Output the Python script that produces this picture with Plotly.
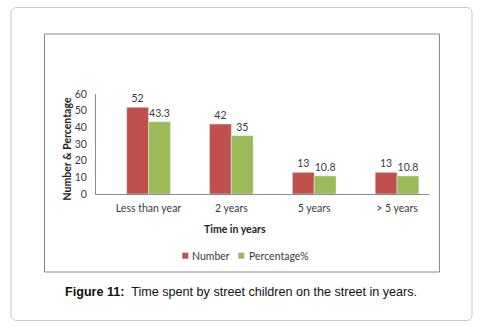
import plotly.graph_objects as go

categories = ["Less than year", "2 years", "5 years", "> 5 years"]
number = [52, 42, 13, 13]
percentage = [43.3, 35, 10.8, 10.8]
number_labels = ["52", "42", "13", "13"]
percentage_labels = ["43.3", "35", "10.8", "10.8"]
series_names = ["Number", "Percentage%"]
series_colors = ["#C0504D", "#9BBB59"]

W, H = 486, 330
L, R, T, B = 96, 429, 94, 194  # plot area pixel bounds

def px(x):
    return (x - L) / (R - L)

def py(y):
    return (B - y) / (B - T)

FONT = "Lato, Liberation Sans, sans-serif"
tick_font = dict(family=FONT, size=10.5, color="#3a3a3a")

fig = go.Figure()
fig.add_trace(go.Bar(name=series_names[0], x=categories, y=number, marker_color=series_colors[0],
                     text=number_labels, textposition="outside", cliponaxis=False,
                     textfont=tick_font, showlegend=False))
fig.add_trace(go.Bar(name=series_names[1], x=categories, y=percentage, marker_color=series_colors[1],
                     text=percentage_labels, textposition="outside", cliponaxis=False,
                     textfont=tick_font, showlegend=False))

def rounded(x0, y0, x1, y1, r):
    X0, X1 = px(x0), px(x1)
    Y0, Y1 = py(y0), py(y1)
    rx = r / (R - L)
    ry = r / (B - T)
    return (f"M {X0+rx},{Y0} L {X1-rx},{Y0} Q {X1},{Y0} {X1},{Y0-ry} "
            f"L {X1},{Y1+ry} Q {X1},{Y1} {X1-rx},{Y1} L {X0+rx},{Y1} "
            f"Q {X0},{Y1} {X0},{Y1+ry} L {X0},{Y0-ry} Q {X0},{Y0} {X0+rx},{Y0} Z")

shapes = [
    dict(type="path", xref="paper", yref="paper", path=rounded(11, 7.5, 472, 320.5, 6),
         line=dict(color="#c8c8c8", width=1), layer="below"),
    dict(type="rect", xref="paper", yref="paper", x0=px(44.5), x1=px(439.5), y0=py(34), y1=py(272),
         line=dict(color="#8a8a8a", width=1), layer="below"),
]

annotations = [
    dict(xref="paper", yref="paper", x=px(241), y=py(291.5), xanchor="center", yanchor="middle",
         showarrow=False,
         text="<b>Figure 11:</b>  Time spent by street children on the street in years.",
         font=dict(family="Liberation Sans, Arial, sans-serif", size=12.6, color="#111111")),
    dict(xref="paper", yref="paper", x=px(234.5), y=py(228.5), xanchor="center", yanchor="middle",
         showarrow=False, text="<b>Time in years</b>",
         font=dict(family=FONT, size=10.5, color="#222222")),
    dict(xref="paper", yref="paper", x=px(66.5), y=py(149), xanchor="center", yanchor="middle",
         showarrow=False, textangle=-90, text="<b>Number & Percentage</b>",
         font=dict(family=FONT, size=10.5, color="#222222")),
]

# legend: small square swatches followed by series names
legend_items = [(182.3, 190, series_names[0], series_colors[0]),
                (238.3, 247, series_names[1], series_colors[1])]
for sx, tx, name, col in legend_items:
    shapes.append(dict(type="rect", xref="paper", yref="paper", x0=px(sx), x1=px(sx + 6),
                       y0=py(252.7), y1=py(258.7), line=dict(width=0), fillcolor=col))
    annotations.append(dict(xref="paper", yref="paper", x=px(tx), y=py(255.7), xanchor="left",
                            yanchor="middle", showarrow=False, text=name,
                            font=dict(family=FONT, size=10.5, color="#3a3a3a")))

fig.update_layout(
    width=W, height=H,
    margin=dict(l=L, r=W - R, t=T, b=H - B, pad=0),
    paper_bgcolor="white", plot_bgcolor="white",
    barmode="group", bargap=0.473, bargroupgap=0,
    showlegend=False,
    shapes=shapes,
    annotations=annotations,
    xaxis=dict(showline=True, linecolor="#8a8a8a", linewidth=1, ticks="", showgrid=False,
               range=[-0.634, 3.386], tickfont=tick_font, ticklabelstandoff=4),
    yaxis=dict(range=[0, 60], dtick=10, showline=True, linecolor="#8a8a8a", linewidth=1,
               showgrid=False, zeroline=False, ticks="", tickfont=tick_font,
               ticklabelstandoff=6),
)

fig.write_html("out.html", config={"displayModeBar": False},
               post_script="document.body.style.margin='0';")
